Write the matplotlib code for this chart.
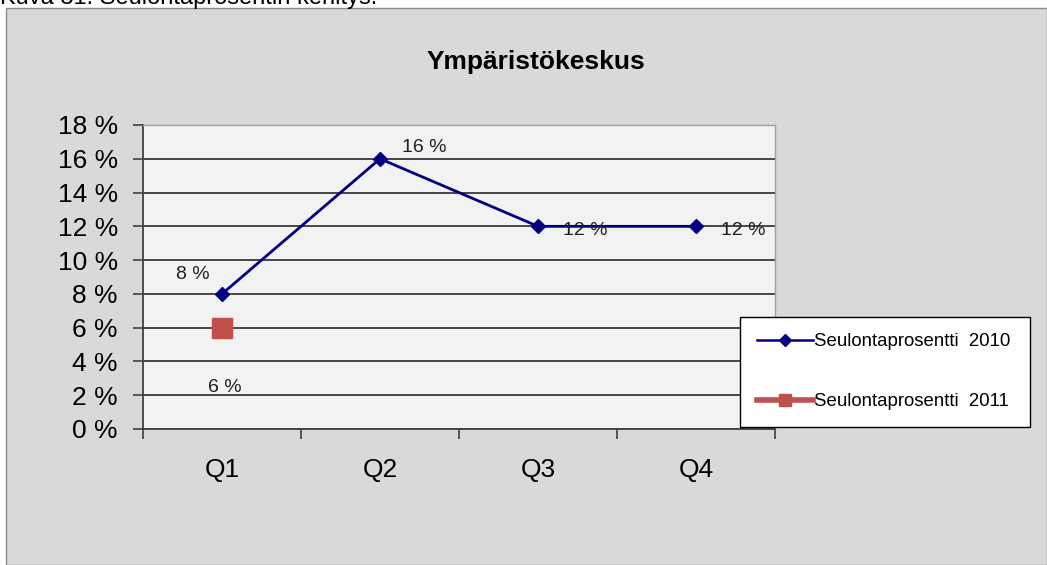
import matplotlib
matplotlib.use("Agg")
import matplotlib.pyplot as plt
from matplotlib.lines import Line2D
from matplotlib.patches import Rectangle
import numpy as np

plt.rcParams['font.family'] = ['Liberation Sans', 'DejaVu Sans']

categories = ["Q1", "Q2", "Q3", "Q4"]
series_2010 = [8, 16, 12, 12]
series_2011 = [6, np.nan, np.nan, np.nan]
yticks = [0, 2, 4, 6, 8, 10, 12, 14, 16, 18]
title = "Ympäristökeskus"
caption = "Kuva 31. Seulontaprosentin kehitys."
label_2010 = "Seulontaprosentti  2010"
label_2011 = "Seulontaprosentti  2011"

W, H = 1047, 565
fig = plt.figure(figsize=(W / 100, H / 100), dpi=100, facecolor="white")

# outer chart frame
frame = Rectangle((6 / W, 0), 1 - 6 / W, 1 - 8 / H, transform=fig.transFigure,
                  facecolor="#d9d9d9", edgecolor="#8c8c8c", lw=1.0, zorder=-10)
fig.add_artist(frame)
fig.text(0, 1 - 4 / H, caption, fontsize=17, va="baseline", ha="left", color="black")

ax = fig.add_axes([143 / W, 1 - 429 / H, (775 - 143) / W, (429 - 125) / H], zorder=2)
ax.set_facecolor("#f2f2f2")
x = np.arange(len(categories))

ax.plot(x, series_2010, color="#000080", lw=2, marker="D", markersize=7, zorder=3)
ax.plot(x, series_2011, color="#c0504d", lw=3, marker="s", markersize=14.5, linestyle="none", zorder=3)

ax.set_xlim(-0.5, len(categories) - 0.5)
ax.set_ylim(0, 18)
ax.set_yticks(yticks)
ax.set_yticklabels([f"{v} %" for v in yticks], fontsize=19)
ax.set_xticks(np.arange(-0.5, len(categories)), minor=False)
ax.set_xticklabels([])
ax.set_xticks(x, minor=True)
ax.set_xticklabels(categories, minor=True, fontsize=19)
ax.tick_params(axis="x", which="major", length=7, width=1.2, color="#404040", direction="out")
ax.tick_params(axis="x", which="minor", length=0, pad=21)
ax.tick_params(axis="y", length=7, width=1.2, color="#404040", direction="out", pad=11)

ax.grid(axis="y", color="#3a3a3a", lw=1.3, zorder=1)
ax.set_axisbelow(True)
for s in ["top", "right"]:
    ax.spines[s].set_color("#a0a0a0")
    ax.spines[s].set_linewidth(1)
for s in ["left", "bottom"]:
    ax.spines[s].set_color("#404040")
    ax.spines[s].set_linewidth(1.3)

# data labels
lab_kw = dict(fontsize=14, color="#202020")
ax.annotate(f"{series_2010[0]} %", (x[0], series_2010[0]), xytext=(-33, 11), textcoords="offset points", **lab_kw)
ax.annotate(f"{series_2010[1]} %", (x[1], series_2010[1]), xytext=(16, 5), textcoords="offset points", **lab_kw)
ax.annotate(f"{series_2010[2]} %", (x[2], series_2010[2]), xytext=(18, -6), textcoords="offset points", **lab_kw)
ax.annotate(f"{series_2010[3]} %", (x[3], series_2010[3]), xytext=(18, -6), textcoords="offset points", **lab_kw)
ax.annotate(f"{series_2011[0]:.0f} %", (x[0], series_2011[0]), xytext=(-10, -46), textcoords="offset points", **lab_kw)

fig.text(536 / W, 1 - 62 / H, title, fontsize=19, fontweight="bold", ha="center", va="center")

handles = [
    Line2D([], [], color="#000080", lw=1.8, marker="D", markersize=6),
    Line2D([], [], color="#c0504d", lw=4, marker="s", markersize=9),
]
leg = fig.legend(handles, [label_2010, label_2011], loc="lower left",
                 bbox_to_anchor=(740 / W, 1 - 427 / H, (1030 - 740) / W, (427 - 314) / H),
                 mode="expand", fontsize=13.4, frameon=True, fancybox=False, handlelength=3.0,
                 handletextpad=0.05, labelspacing=2.3, borderpad=0.9, borderaxespad=0,
                 framealpha=1)
leg.set_zorder(5)
leg.get_frame().set_edgecolor("black")
leg.get_frame().set_linewidth(1.0)
leg.get_frame().set_facecolor("white")

fig.savefig("out.png", dpi=100, facecolor="white")
